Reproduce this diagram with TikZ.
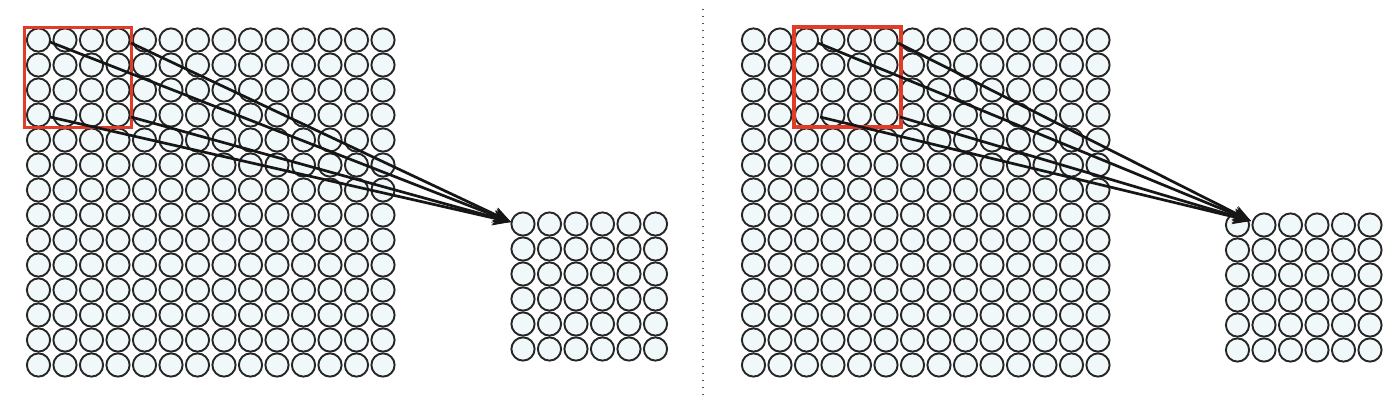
\documentclass[tikz,border=0pt]{standalone}
\usetikzlibrary{arrows.meta}
\definecolor{cellfill}{RGB}{240,248,250}
\definecolor{cellline}{RGB}{38,38,38}
\definecolor{winred}{RGB}{224,60,40}
\definecolor{dotcol}{RGB}{70,90,100}
\definecolor{arrowcol}{RGB}{22,22,22}
\begin{document}
\begin{tikzpicture}[x=1pt,y=-1pt,
  cell/.style={circle,draw=cellline,fill=cellfill,line width=1.9pt,minimum size=23.2pt,inner sep=0pt},
  win/.style={rectangle,draw=winred,line width=3.3pt,minimum width=107pt,minimum height=100pt,inner sep=0pt},
  conn/.style={draw=arrowcol,line width=2.7pt,-{Stealth[length=18pt,width=15pt]}},
  sepline/.style={draw=dotcol,line width=1.6pt,dash pattern=on 1.4pt off 5.6pt}]
\useasboundingbox (0,0) rectangle (1400,407);
\fill[white] (0,0) rectangle (1400,407);
% big grids
\foreach \i in {0,...,13}{
  \foreach \j in {0,...,13}{
    \node[cell] (L-\i-\j) at ({38.5+26.5*\i},{40+25*\j}) {};
    \node[cell] (R-\i-\j) at ({753.5+26.5*\i},{40+25*\j}) {};
  }
}
% small grids
\foreach \i in {0,...,5}{
  \foreach \j in {0,...,5}{
    \node[cell] (l-\i-\j) at ({523+26.5*\i},{224+25*\j}) {};
    \node[cell] (r-\i-\j) at ({1237.5+26.5*\i},{225+25*\j}) {};
  }
}
% windows
\node[win] (winL) at (78.3,77.7) {};
\node[win] (winR) at (847.5,77) {};
% connector points
\coordinate (La) at (50,42);
\coordinate (Lb) at (131,43);
\coordinate (Lc) at (50,117);
\coordinate (Ld) at (131,117);
\coordinate (Ltip) at (511,222);
\coordinate (Ra) at (818,43);
\coordinate (Rb) at (898,43);
\coordinate (Rc) at (820,117);
\coordinate (Rd) at (900,117);
\coordinate (Rtip) at (1251,221);
\foreach \s in {La,Lb,Lc,Ld}{\draw[conn] (\s) -- (Ltip);}
\foreach \s in {Ra,Rb,Rc,Rd}{\draw[conn] (\s) -- (Rtip);}
% separator
\coordinate (sepT) at (703,9);
\coordinate (sepB) at (703,400);
\draw[sepline] (sepT) -- (sepB);
\end{tikzpicture}
\end{document}
